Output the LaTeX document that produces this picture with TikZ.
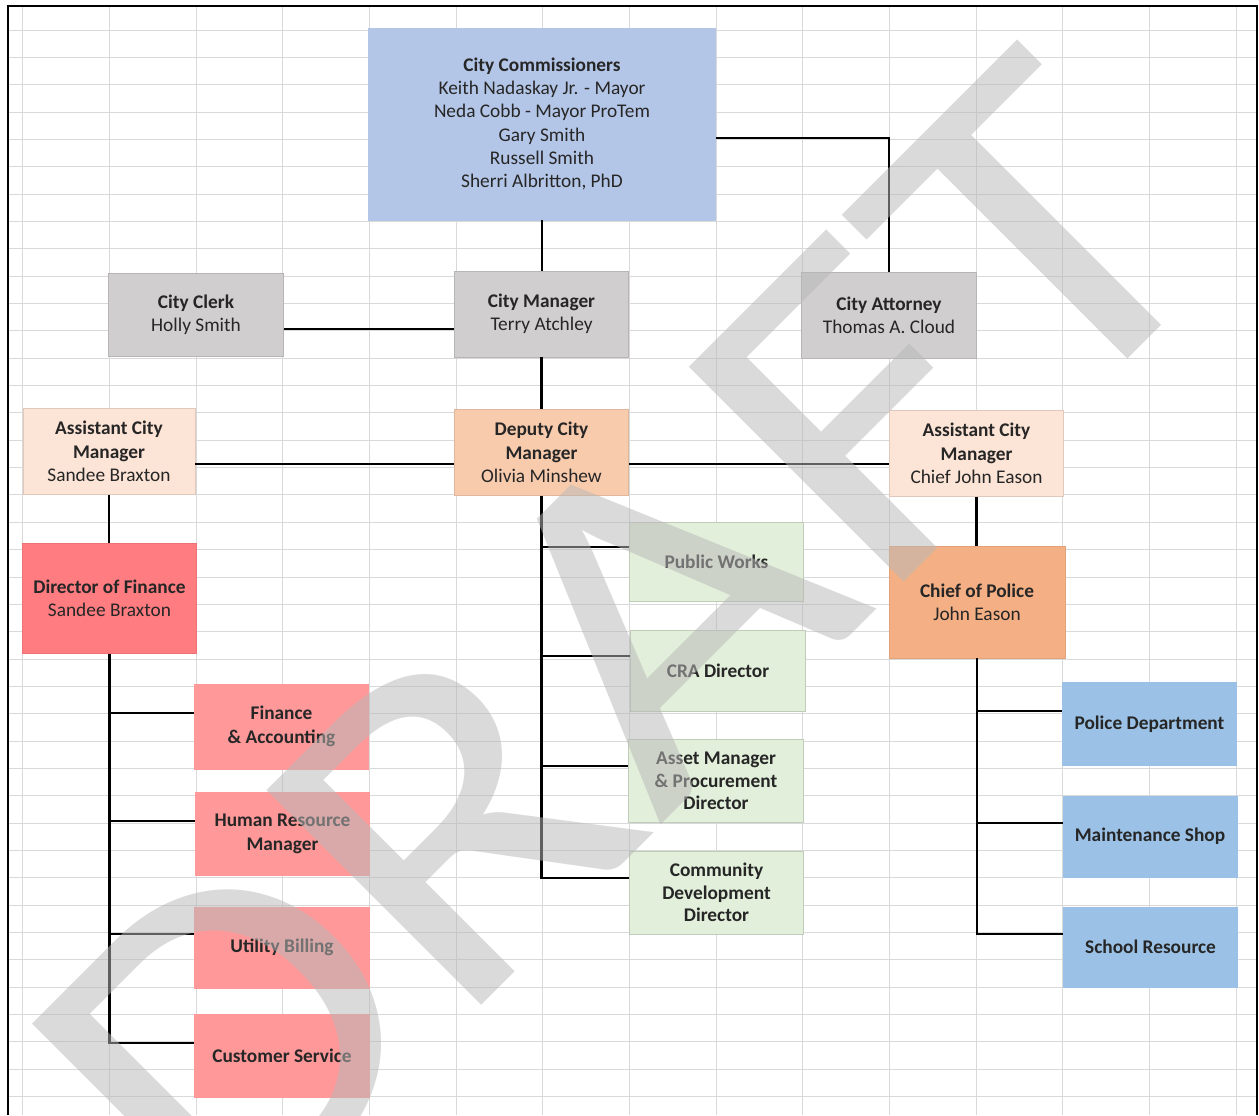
\documentclass[tikz,border=0pt]{standalone}
\usepackage{fontspec}
\setmainfont{Carlito}
\usepackage{graphicx}

\definecolor{gridgrey}{HTML}{D9D9D9}
\definecolor{commblue}{HTML}{B4C6E7}
\definecolor{officegrey}{HTML}{D0CECE}
\definecolor{acmpeach}{HTML}{FCE4D6}
\definecolor{deppeach}{HTML}{F8CBAD}
\definecolor{coporange}{HTML}{F4B084}
\definecolor{dofred}{HTML}{FF7C80}
\definecolor{finpink}{HTML}{FF9999}
\definecolor{deptgreen}{HTML}{E2EFDA}
\definecolor{policeblue}{HTML}{9BC2E6}
\definecolor{wmgrey}{HTML}{B8B8B8}

\tikzstyle{unit} = [rectangle, align=center, inner sep=2pt, text=black!85, minimum width=131pt, minimum height=62pt, line width=0.6pt, font=\fontsize{14.5}{17.5}\selectfont]
\tikzstyle{commbox} = [unit, fill=commblue, draw=commblue]
\tikzstyle{office} = [unit, fill=officegrey, draw=officegrey!88!black]
\tikzstyle{acm} = [unit, fill=acmpeach, draw=acmpeach!88!black, minimum height=65pt]
\tikzstyle{deputy} = [unit, fill=deppeach, draw=deppeach!90!black, minimum height=65pt]
\tikzstyle{chief} = [unit, fill=coporange, draw=coporange!92!black, minimum height=84pt]
\tikzstyle{director} = [unit, fill=dofred, draw=dofred!92!black, minimum height=83pt]
\tikzstyle{finance} = [unit, fill=finpink, draw=finpink, font=\fontsize{14.5}{17.5}\selectfont\bfseries]
\tikzstyle{works} = [unit, fill=deptgreen, draw=deptgreen!85!black, font=\fontsize{14.5}{17}\selectfont\bfseries]
\tikzstyle{police} = [unit, fill=policeblue, draw=policeblue, font=\fontsize{14.5}{17.5}\selectfont\bfseries]
\tikzstyle{link} = [line width=1.6pt, black]
\tikzstyle{gridline} = [line width=0.75pt, gridgrey]
\tikzstyle{watermark} = [inner sep=0pt, rotate=45, text=wmgrey, text opacity=0.52, font=\fontsize{355}{355}\selectfont]

\begin{document}
\begin{tikzpicture}[x=0.75pt, y=-0.75pt]
\useasboundingbox (0,0) rectangle (1259,1115);

\foreach \i in {0,...,14}
  \draw[gridline] ({22.7+86.67*\i},6) -- ({22.7+86.67*\i},1115);
\foreach \k in {0,...,39}
  \draw[gridline] (8,{30+27.35*\k}) -- (1257,{30+27.35*\k});
\draw[line width=1.5pt] (8,1115) -- (8,6) -- (1257,6) -- (1257,1115);

\node (comm) [commbox, minimum width=260pt, minimum height=144pt] at (542,124) {
  \textbf{City Commissioners}\\Keith Nadaskay Jr. - Mayor\\Neda Cobb - Mayor ProTem\\Gary Smith\\Russell Smith\\Sherri Albritton, PhD};

\node (clerk) [office] at (196,315) {\textbf{City Clerk}\\Holly Smith};
\node (mgr) [office, minimum height=64.5pt] at (541.5,314) {\textbf{City Manager}\\Terry Atchley};
\node (atty) [office, minimum height=65pt] at (889,315.5) {\textbf{City Attorney}\\Thomas A. Cloud};

\node (acmL) [acm, minimum width=129pt] at (109,451.5) {\textbf{Assistant City}\\\textbf{Manager}\\Sandee Braxton};
\node (dep) [deputy] at (541.5,452.5) {\textbf{Deputy City}\\\textbf{Manager}\\Olivia Minshew};
\node (acmR) [acm] at (976.5,453.5) {\textbf{Assistant City}\\\textbf{Manager}\\Chief John Eason};

\node (dof) [director] at (109.5,598.5) {\textbf{Director of Finance}\\Sandee Braxton};
\node (fin) [finance, minimum height=63.75pt] at (281.5,726.5) {Finance\\\& Accounting};
\node (hr) [finance] at (282.5,834) {Human Resource\\Manager};
\node (util) [finance, minimum height=60.75pt] at (282,947.5) {Utility Billing};
\node (cust) [finance] at (282,1056) {Customer Service};

\node (pw) [works, minimum height=59.25pt] at (716.5,561.5) {Public Works};
\node (cra) [works, minimum height=60.75pt] at (718,670.5) {CRA Director};
\node (asset) [works] at (716,781) {Asset Manager\\\& Procurement\\Director};
\node (cd) [works, minimum height=62.25pt] at (716.5,892.5) {Community\\Development\\Director};

\node (cop) [chief, minimum width=132pt] at (977,602) {\textbf{Chief of Police}\\John Eason};
\node (pd) [police, minimum width=130pt] at (1149.5,724) {Police Department};
\node (maint) [police, minimum width=130.5pt, minimum height=60.75pt] at (1150,836.5) {Maintenance Shop};
\node (school) [police, minimum height=60pt] at (1150.5,947) {School Resource};

\draw[link] (comm.south) -- (comm.south |- mgr.north);
\draw[link] ([yshift=-10.5pt]comm.east) -| (atty.north);
\coordinate (clerkout) at ([yshift=-10.5pt]clerk.east);
\draw[link] (clerkout) -- (clerkout -| mgr.west);
\draw[link] (mgr.south) -- (mgr.south |- dep.north);
\coordinate (rowline) at ([yshift=-8.5pt]dep.west);
\draw[link] (rowline -| acmL.east) -- (rowline);
\draw[link] (rowline -| dep.east) -- (rowline -| acmR.west);

\draw[link] (acmL.south) -- (acmL.south |- dof.north);
\foreach \unit in {fin,hr,util,cust}
  \draw[link] (dof.south) |- ([yshift=10pt]\unit.west);
\foreach \unit in {pw,cra,asset,cd}
  \draw[link] (dep.south) |- ([yshift=11pt]\unit.west);
\draw[link] (acmR.south) -- (acmR.south |- cop.north);
\foreach \unit in {pd,maint,school}
  \draw[link] (cop.south) |- ([yshift=10pt]\unit.west);

\node (draft) [watermark] at (622,650) {\scalebox{1.13}[1]{DRAFT}};
\end{tikzpicture}
\end{document}
